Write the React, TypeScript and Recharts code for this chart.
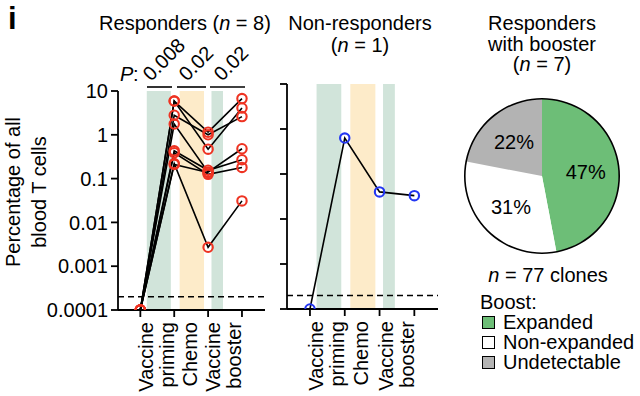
import { Line, LineChart, Pie, PieChart, Cell, ReferenceArea, ReferenceLine, XAxis, YAxis } from "recharts";

const FONT = '"Liberation Sans", Arial, Helvetica, sans-serif';

// timepoints: baseline, after priming, after chemo, after booster
const stageIdx = [0, 1, 2, 3];
const stageLabels = [["Vaccine", "priming"], ["Chemo"], ["Vaccine", "booster"]];
const logTicks = [0.0001, 0.001, 0.01, 0.1, 1, 10];
const detectionLimit = 0.0002;

// treatment windows (in timepoint units)
const phaseStart = [0.19, 1.16, 2.1];
const phaseEnd = [0.9, 1.88, 2.44];
const phaseColor = ["#d1e4da", "#fdebc9", "#d1e4da"];

// responders, one clone per line (% of blood T cells)
const r1 = [0.0001, 5.9, 1.15, 6.7];
const r2 = [0.0001, 5.9, 0.47, 4.1];
const r3 = [0.0001, 2.8, 1.0, 2.6];
const r4 = [0.0001, 1.76, 0.14, 0.48];
const r5 = [0.0001, 0.43, 0.155, 0.27];
const r6 = [0.0001, 0.39, 0.125, 0.18];
const r7 = [0.0001, 0.22, 0.0027, 0.031];
const r8 = [0.0001, 0.21, 0.138, null];
const responders = [r1, r2, r3, r4, r5, r6, r7, r8];

// non-responder
const n1 = [0.0001, 0.63, 0.04, 0.033];

const pValues = ["0.008", "0.02", "0.02"];

const boostNames = ["Expanded", "Non-expanded", "Undetectable"];
const boostPct = [47, 31, 22];
const boostColors = ["#6dbe77", "#ffffff", "#b3b3b3"];

const respRows = stageIdx.map((t, i) => {
  const row: Record<string, number | null> = { t };
  responders.forEach((s, k) => (row["c" + k] = s[i]));
  return row;
});
const nonRows = stageIdx.map((t, i) => ({ t, v: n1[i] }));
const pieData = boostNames.map((name, i) => ({ name, value: boostPct[i], fill: boostColors[i] }));

function StageTick(props: any) {
  const { x, y, payload, half } = props;
  const lines = stageLabels[payload.value];
  if (!lines) return <g />;
  const n = lines.length;
  return (
    <g>
      {lines.map((l: string, i: number) => {
        const bx = x + half + 6 + (i - (n - 1) / 2) * 21;
        return (
          <text
            key={l}
            x={0}
            y={0}
            transform={`translate(${bx} ${y + 3}) rotate(-90)`}
            textAnchor="end"
            fontSize={20}
            fontFamily={FONT}
            fill="#000"
          >
            {l}
          </text>
        );
      })}
    </g>
  );
}

const ringDot = (color: string) => (p: any) => {
  if (p.cy == null || p.value == null) return <g key={p.key ?? p.index} />;
  return <circle key={p.key ?? p.index} cx={p.cx} cy={p.cy} r={4.7} fill="none" stroke={color} strokeWidth={2.1} />;
};

function TimeCourse({ rows, keys, color, width, margin, yWidth, showY, half }: any) {
  return (
    <LineChart width={width} height={396} data={rows} margin={margin}>
      {phaseStart.map((s, i) => (
        <ReferenceArea key={i} x1={s} x2={phaseEnd[i]} y1={0.0001} y2={10} fill={phaseColor[i]} fillOpacity={1} stroke="none" ifOverflow="hidden" />
      ))}
      <XAxis
        type="number"
        dataKey="t"
        domain={[-0.66, 3.68]}
        ticks={stageIdx}
        allowDataOverflow
        height={80}
        tickSize={7}
        stroke="#000"
        strokeWidth={1.8}
        tick={(p: any) => <StageTick {...p} half={half} />}
      />
      <YAxis
        scale="log"
        type="number"
        domain={[0.0001, 10]}
        ticks={logTicks}
        allowDataOverflow
        width={yWidth}
        tickSize={7}
        tickMargin={3}
        stroke="#000"
        strokeWidth={1.8}
        tick={{ fill: "#000", fontSize: 20, fontFamily: FONT }}
        tickFormatter={(v: number) => (showY ? String(v) : "")}
      />
      <ReferenceLine y={detectionLimit} stroke="#000" strokeWidth={1.5} strokeDasharray="6 4" />
      {keys.map((k: string) => (
        <Line
          key={k}
          dataKey={k}
          type="linear"
          stroke="#000"
          strokeWidth={1.6}
          dot={ringDot(color)}
          activeDot={false}
          isAnimationActive={false}
          connectNulls={false}
        />
      ))}
    </LineChart>
  );
}

const RAD = Math.PI / 180;
const pieLabel = (p: any) => {
  const r = p.outerRadius * 0.57;
  const x = p.cx + r * Math.cos(-p.midAngle * RAD);
  const y = p.cy + r * Math.sin(-p.midAngle * RAD);
  return (
    <text x={x} y={y} textAnchor="middle" dominantBaseline="central" fontSize={20} fontFamily={FONT} fill="#000">
      {p.value}%
    </text>
  );
};

export default function App() {
  const txt = { fontSize: 20, fontFamily: FONT, fill: "#000" } as const;
  return (
    <div style={{ position: "absolute", left: 0, top: 0, width: 640, height: 396, background: "#fff", fontFamily: FONT }}>
      <div style={{ position: "absolute", left: 0, top: 0 }}>
        <TimeCourse
          rows={respRows}
          keys={responders.map((_, k) => "c" + k)}
          color="#ee3322"
          width={280}
          margin={{ top: 91, right: 15, bottom: 6, left: 0 }}
          yWidth={118}
          showY
          half={16.9}
        />
      </div>
      <div style={{ position: "absolute", left: 270, top: 0 }}>
        <TimeCourse
          rows={nonRows}
          keys={["v"]}
          color="#2236f2"
          width={180}
          margin={{ top: 84, right: 12, bottom: 7, left: 0 }}
          yWidth={17}
          showY={false}
          half={17.5}
        />
      </div>
      <div style={{ position: "absolute", left: 463, top: 97 }}>
        <PieChart width={158} height={158} margin={{ top: 0, right: 0, bottom: 0, left: 0 }}>
          <Pie
            data={pieData}
            dataKey="value"
            nameKey="name"
            startAngle={90}
            endAngle={-270}
            outerRadius={77}
            innerRadius={0}
            stroke="none"
            labelLine={false}
            label={pieLabel}
            isAnimationActive={false}
          >
            {pieData.map((d) => (
              <Cell key={d.name} fill={d.fill} />
            ))}
          </Pie>
          <Pie
            data={[{ value: 1 }]}
            dataKey="value"
            startAngle={90}
            endAngle={-270}
            outerRadius={78}
            innerRadius={76.4}
            fill="#000"
            stroke="none"
            isAnimationActive={false}
          />
        </PieChart>
      </div>
      <svg width={640} height={396} style={{ position: "absolute", left: 0, top: 0, pointerEvents: "none" }}>
        <text x={8} y={29} fontSize={31} fontWeight={900} fontFamily={FONT} fill="#000">i</text>
        <text x={185} y={30} textAnchor="middle" {...txt}>
          Responders (<tspan fontStyle="italic">n</tspan> = 8)
        </text>
        <text x={360} y={30} textAnchor="middle" {...txt}>Non-responders</text>
        <text x={360} y={52} textAnchor="middle" {...txt}>
          (<tspan fontStyle="italic">n</tspan> = 1)
        </text>
        <text x={542} y={30} textAnchor="middle" {...txt}>Responders</text>
        <text x={542} y={51} textAnchor="middle" {...txt}>with booster</text>
        <text x={542} y={71} textAnchor="middle" {...txt}>
          (<tspan fontStyle="italic">n</tspan> = 7)
        </text>
        <text x={120} y={81} fontStyle="italic" {...txt}>P</text>
        <text x={133} y={81} {...txt}>:</text>
        {pValues.map((p, i) => {
          const sx = [151, 187, 222][i];
          return (
            <g key={i} transform={`translate(${sx} 82) rotate(-45)`}>
              <text x={0} y={0} {...txt}>
                {p}
              </text>
            </g>
          );
        })}
        {[[147, 172], [177, 206], [210, 245]].map(([a, b], i) => (
          <line key={i} x1={a} x2={b} y1={87} y2={87} stroke="#000" strokeWidth={1.6} />
        ))}
        <g transform="translate(20 192) rotate(-90)">
          <text x={0} y={0} textAnchor="middle" {...txt}>Percentage of all</text>
        </g>
        <g transform="translate(46 192) rotate(-90)">
          <text x={0} y={0} textAnchor="middle" {...txt}>blood T cells</text>
        </g>
        <text x={548} y={282} textAnchor="middle" {...txt}>
          <tspan fontStyle="italic">n</tspan> = 77 clones
        </text>
      </svg>
      <div style={{ position: "absolute", left: 480, top: 292, fontSize: 20, lineHeight: "20px", color: "#000" }}>
        <div>Boost:</div>
        {pieData.map((d) => (
          <div key={d.name} style={{ display: "flex", alignItems: "center" }}>
            <span
              style={{
                display: "inline-block",
                width: 11,
                height: 11,
                border: "1px solid #000",
                background: d.fill,
                marginLeft: 2,
                marginRight: 8,
              }}
            />
            {d.name}
          </div>
        ))}
      </div>
    </div>
  );
}
